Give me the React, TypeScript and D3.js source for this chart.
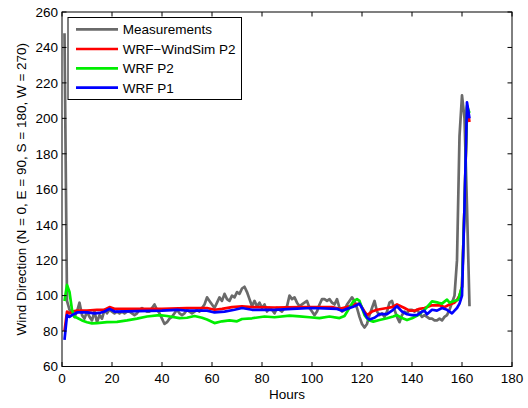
import React from "react";
import * as d3 from "d3";

const W = 528;
const H = 408;

const xTicks = [0, 20, 40, 60, 80, 100, 120, 140, 160, 180];
const yTicks = [60, 80, 100, 120, 140, 160, 180, 200, 220, 240, 260];

const seriesNames = ["Measurements", "WRF\u2212WindSim P2", "WRF P2", "WRF P1"];
const seriesColors = ["#6a6a6a", "#ff0000", "#00ee00", "#0000ff"];

// Measurements, hourly from hour 1
const measurements = [
  248, 97, 92, 90, 88, 91, 96, 89, 87, 91,
  88, 86, 91, 85, 89, 87, 92, 90, 92, 91,
  90, 91, 90, 91, 90, 91, 91, 90, 89, 90,
  92, 93, 92, 91, 91, 93, 95, 92, 90, 87,
  84, 85, 87, 88, 90, 92, 90, 89, 90, 92,
  91, 90, 91, 92, 91, 93, 95, 99, 97, 95,
  93, 96, 99, 97, 101, 98, 97, 100, 99, 102,
  101, 104, 105, 102, 98, 94, 97, 94, 96, 93,
  95, 91, 93, 92, 90, 93, 92, 91, 93, 94,
  100, 98, 99, 96, 94, 95, 96, 97, 93, 91,
  89, 91, 95, 98, 98, 97, 98, 96, 95, 98,
  93, 91, 92, 95, 97, 99, 97, 93, 88, 84,
  82, 84, 89, 93, 97, 91, 89, 90, 88, 91,
  96, 97, 92, 88, 85, 89, 91, 90, 92, 92,
  91, 92, 90, 88, 89, 88, 87, 87, 86, 86,
  87, 86, 88, 89, 92, 96, 100, 120, 190, 213,
  200, 150, 94,
];

// [hour, direction]
const windSimP2: [number, number][] = [
  [1, 80], [2, 91], [3, 90], [4, 91], [6, 91.5], [10, 91.5], [14, 92], [17, 92],
  [19, 93.5], [21, 92.5], [30, 92.5], [40, 92.5], [50, 93], [58, 93], [61, 92],
  [64, 92.5], [68, 93.5], [72, 94], [76, 93.5], [85, 93.3], [95, 93.5], [108, 93.5],
  [111, 92.5], [114, 93.5], [117, 95], [119, 95.5], [121, 91], [122, 89], [124, 91],
  [126, 92], [130, 93], [132, 93.5], [134, 95], [137, 93], [139, 91.5], [141, 91.5],
  [143, 92.5], [145, 93], [148, 94.5], [151, 94.5], [153, 93.5], [155, 95], [157, 96],
  [158, 97.5], [159, 100], [160, 105], [161, 150], [162, 206], [163, 198],
];

const wrfP2: [number, number][] = [
  [1, 97], [2, 106], [3, 102], [4, 92], [5, 88], [6, 87.5], [8, 86], [10, 85],
  [12, 84.3], [14, 84.5], [18, 85], [22, 85.2], [26, 86], [30, 87], [34, 88.2],
  [39, 89], [42, 88.5], [47, 87.3], [50, 87.5], [53, 88.5], [56, 87.5], [58, 86.5],
  [61, 84.5], [64, 85.5], [67, 86], [70, 85.5], [72, 86.8], [76, 87.2], [81, 88.2],
  [85, 87.8], [91, 88.7], [95, 88.3], [99, 87.8], [103, 87.3], [107, 88.2], [111, 87.3],
  [113, 88.5], [114.5, 92], [116.5, 96.7], [118, 98], [119, 97], [121, 89], [122.5, 86.2],
  [124.5, 85.3], [127, 86.2], [130, 87.2], [132.5, 88.2], [134, 89], [136, 87.3],
  [138, 86.2], [140, 87.2], [142.5, 89], [145, 92], [148, 96.7], [150.5, 96], [152, 95.5],
  [154, 97.7], [155, 96], [156, 96.5], [158.5, 97.7], [160, 105], [161, 150], [162, 207],
  [163, 203],
];

const wrfP1: [number, number][] = [
  [1, 75], [2, 89], [3, 88], [4, 89], [6, 90.5], [10, 90.5], [13, 90], [15, 90.2],
  [17, 91], [19, 92.5], [21, 91], [30, 91.2], [40, 91.5], [46, 92], [50, 91.5], [55, 91.5],
  [58, 91.5], [61, 90.5], [65, 91], [69, 92], [72, 93], [76, 92], [85, 92], [92, 92.5],
  [100, 93], [110, 92.5], [112, 91.5], [114, 92.5], [117, 94], [119, 95.5], [120, 93],
  [122, 87.5], [123, 86.5], [125, 87.5], [127, 89.5], [130, 89.5], [132, 91.5], [134, 94],
  [136, 91], [138, 89.5], [140, 89], [142, 89], [144, 91], [145, 91.5], [146, 89.5],
  [148, 92], [150, 91.5], [152, 93], [154, 92], [156, 90], [157, 91.5], [158, 93],
  [159, 95.5], [160, 100], [161, 150], [162, 209], [163, 200],
];

const margin = { left: 62, right: 512, top: 12, bottom: 366.5 };
const FONT = "'Liberation Sans', Arial, Helvetica, sans-serif";
const FS = 13.5;
const LW = 2.7;
const TICK = 4.5;

export default function App() {
  const x = d3.scaleLinear().domain([0, 180]).range([margin.left, margin.right]);
  const y = d3.scaleLinear().domain([60, 260]).range([margin.bottom, margin.top]);

  const line = d3
    .line<[number, number]>()
    .x((d) => x(d[0]))
    .y((d) => y(d[1]));

  const measPts: [number, number][] = measurements.map((v, i) => [i + 1, v]);
  const allSeries = [measPts, windSimP2, wrfP2, wrfP1];

  const legend = { x0: 68, y0: 17.5, x1: 241.5, y1: 99.5 };
  const rowY = [29.3, 49, 68.4, 87.7];

  return (
    <svg
      width={W}
      height={H}
      viewBox={`0 0 ${W} ${H}`}
      style={{ position: "absolute", left: 0, top: 0, background: "#fff" }}
      fontFamily={FONT}
    >
      <rect x={0} y={0} width={W} height={H} fill="#fff" />
      <defs>
        <clipPath id="plotclip">
          <rect
            x={margin.left}
            y={margin.top}
            width={margin.right - margin.left}
            height={margin.bottom - margin.top}
          />
        </clipPath>
      </defs>

      <g clipPath="url(#plotclip)">
        {allSeries.map((s, i) => (
          <path
            key={i}
            d={line(s) || ""}
            fill="none"
            stroke={seriesColors[i]}
            strokeWidth={LW}
            strokeLinejoin="round"
          />
        ))}
      </g>

      {/* axes box */}
      <rect
        x={margin.left}
        y={margin.top}
        width={margin.right - margin.left}
        height={margin.bottom - margin.top}
        fill="none"
        stroke="#000"
        strokeWidth={1}
      />

      {xTicks.map((t) => (
        <g key={"x" + t}>
          <line x1={x(t)} x2={x(t)} y1={margin.bottom} y2={margin.bottom - TICK} stroke="#000" />
          <line x1={x(t)} x2={x(t)} y1={margin.top} y2={margin.top + TICK} stroke="#000" />
          <text x={x(t)} y={margin.bottom + 16} textAnchor="middle" fontSize={FS} fill="#000">
            {t}
          </text>
        </g>
      ))}

      {yTicks.map((t) => (
        <g key={"y" + t}>
          <line x1={margin.left} x2={margin.left + TICK} y1={y(t)} y2={y(t)} stroke="#000" />
          <line x1={margin.right} x2={margin.right - TICK} y1={y(t)} y2={y(t)} stroke="#000" />
          <text x={58} y={y(t) + 4.8} textAnchor="end" fontSize={FS} fill="#000">
            {t}
          </text>
        </g>
      ))}

      <text x={(margin.left + margin.right) / 2} y={399} textAnchor="middle" fontSize={FS} fill="#000">
        Hours
      </text>
      <text
        transform={`translate(26, ${(margin.top + margin.bottom) / 2}) rotate(-90)`}
        textAnchor="middle"
        fontSize={FS}
        fill="#000"
      >
        Wind Direction (N = 0, E = 90, S = 180, W = 270)
      </text>

      {/* legend */}
      <rect
        x={legend.x0}
        y={legend.y0}
        width={legend.x1 - legend.x0}
        height={legend.y1 - legend.y0}
        fill="#fff"
        stroke="#000"
        strokeWidth={1}
      />
      {seriesNames.map((n, i) => (
        <g key={n}>
          <line x1={76} x2={118} y1={rowY[i]} y2={rowY[i]} stroke={seriesColors[i]} strokeWidth={LW} />
          <text x={122.7} y={rowY[i] + 4.8} fontSize={FS} fill="#000">
            {n}
          </text>
        </g>
      ))}
    </svg>
  );
}
